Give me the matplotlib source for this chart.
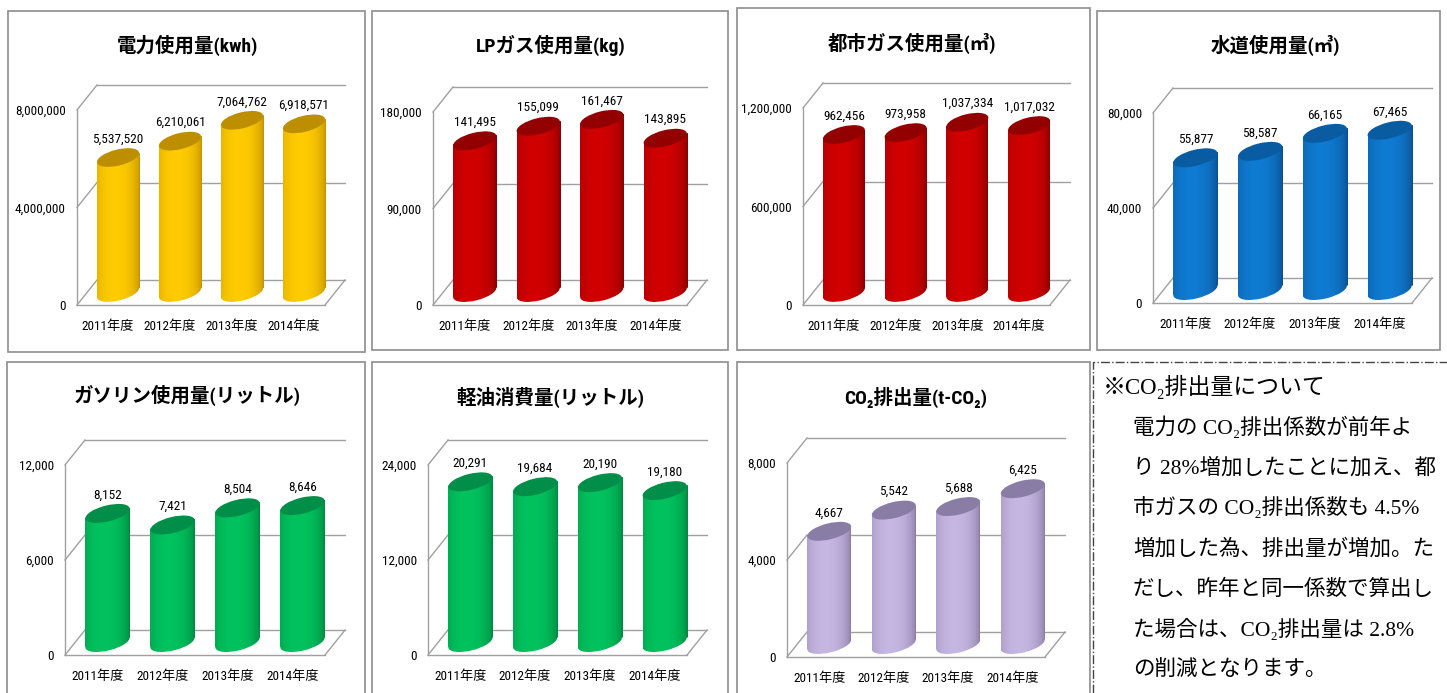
import numpy as np
import matplotlib
matplotlib.use("Agg")
import matplotlib.pyplot as plt
import matplotlib.font_manager as fm
from matplotlib.patches import Rectangle, Ellipse
from matplotlib.transforms import ScaledTranslation, Affine2D
from matplotlib.colors import to_rgb

# ---------------- data ----------------
years = ["2011年度", "2012年度", "2013年度", "2014年度"]
power_kwh = [5537520, 6210061, 7064762, 6918571]
lpgas_kg = [141495, 155099, 161467, 143895]
citygas_m3 = [962456, 973958, 1037334, 1017032]
water_m3 = [55877, 58587, 66165, 67465]
gasoline_l = [8152, 7421, 8504, 8646]
diesel_l = [20291, 19684, 20190, 19180]
co2_t = [4667, 5542, 5688, 6425]

titles = ["電力使用量(kwh)", "LPガス使用量(kg)", "都市ガス使用量(㎥)", "水道使用量(㎥)",
          "ガソリン使用量(リットル)", "軽油消費量(リットル)", "CO₂排出量(t-CO₂)"]
axis_max = [8000000, 180000, 1200000, 80000, 12000, 24000, 8000]

note_title = "※CO₂排出量について"
note_lines = [
    "電力の CO₂排出係数が前年よ",
    "り 28%増加したことに加え、都",
    "市ガスの CO₂排出係数も 4.5%",
    "増加した為、排出量が増加。た",
    "だし、昨年と同一係数で算出し",
    "た場合は、CO₂排出量は 2.8%",
    "の削減となります。",
]

series = [power_kwh, lpgas_kg, citygas_m3, water_m3, gasoline_l, diesel_l, co2_t]

# ---------------- styles / layout ----------------
YELLOW = ("#C28F00", "#FFCC00", "#BD8F00")
RED = ("#880000", "#D20000", "#920000")
BLUE = ("#0A4C8A", "#0F7BD2", "#0A5CA2")
GREEN = ("#00853E", "#00C35E", "#008E48")
PURPLE = ("#887AA5", "#C6B7E2", "#8A7DA5")
styles = [YELLOW, RED, RED, BLUE, GREEN, GREEN, PURPLE]

# (box_l, box_t, box_r, box_b, front_left, floor_y, top_y, front_right, title_x, title_y)
layout = [
    (8, 11, 365, 352, 77, 305, 110, 325, 188, 45),
    (372, 11, 728, 350, 433, 305, 112, 687, 551, 45),
    (737, 8, 1090, 350, 803, 305, 108, 1050, 912, 43),
    (1097, 11, 1440, 350, 1153, 303, 113, 1412, 1275, 45),
    (7, 362, 365, 705, 65, 655, 465, 325, 187, 395),
    (372, 362, 728, 705, 428, 655, 465, 687, 550, 397),
    (737, 362, 1090, 705, 787, 657, 463, 1045, 916, 397),
]

names = {f.name for f in fm.fontManager.ttflist}
NARROW = "Liberation Sans"
for cand in ["Liberation Sans Narrow", "Roboto Condensed", "Open Sans Condensed"]:
    if cand in names:
        NARROW = cand
        break
SANS = [NARROW, "Noto Sans CJK JP", "DejaVu Sans"]
SERIF = ["Liberation Serif", "Noto Sans CJK JP", "DejaVu Serif"]

W, H, DPI = 1447, 693, 100
DX, DY = 20, 25          # depth offset (px)
GRID = "#A0A0A0"
BW = 0.68                # bar width in category units
ANG = 14.0               # cap tilt (deg)
B_HALF = 8.0             # cap minor half-axis (px)

fig = plt.figure(figsize=(W / DPI, H / DPI), dpi=DPI)
fig.patch.set_facecolor("white")


def fx(px):
    return px / W


def fy(py):
    return 1 - py / H


def shade(edge, mid, n=96):
    t = np.linspace(0, 1, n)
    f = np.clip(1 - ((t - 0.42) / 0.58) ** 2, 0, 1) ** 0.6
    e, m = np.array(to_rgb(edge)), np.array(to_rgb(mid))
    rgb = e[None, :] + (m - e)[None, :] * f[:, None]
    rgba = np.concatenate([rgb, np.ones((n, 1))], axis=1)
    return rgba[None, :, :]


for k in range(7):
    bl, bt, br, bb, fl, floor, top, fr, tx, ty = layout[k]
    vals = series[k]
    ymax = axis_max[k]
    edge, mid, capc = styles[k]

    # panel frame
    fig.add_artist(Rectangle((fx(bl), fy(bb)), fx(br - bl), (bb - bt) / H,
                             transform=fig.transFigure, fill=False,
                             edgecolor="#8C8C8C", lw=1.2))
    fig.text(fx(tx), fy(ty), titles[k], ha="center", va="center",
             fontsize=14, fontweight="bold", family=SANS, color="black")

    ax = fig.add_axes([fx(fl), fy(floor), fx(fr - fl), (floor - top) / H])
    ax.set_xlim(0, 4)
    ax.set_ylim(0, ymax)
    ax.patch.set_alpha(0)
    for s in ["top", "right"]:
        ax.spines[s].set_visible(False)
    for s in ["left", "bottom"]:
        ax.spines[s].set_color(GRID)
        ax.spines[s].set_linewidth(1.0)

    ticks = [0, ymax / 2, ymax]
    ax.set_yticks(ticks)
    ax.set_yticklabels([f"{int(t):,}" for t in ticks])
    ax.set_xticks([0.5, 1.5, 2.5, 3.5])
    ax.set_xticklabels(years)
    ax.tick_params(axis="both", length=0, labelsize=9.5, colors="black")
    ax.tick_params(axis="y", pad=8)
    ax.tick_params(axis="x", pad=11)
    for lab in ax.get_xticklabels() + ax.get_yticklabels():
        lab.set_fontfamily(SANS)

    tb = ax.transData + ScaledTranslation(DX / DPI, DY / DPI, fig.dpi_scale_trans)
    tm = ax.transData + ScaledTranslation(DX / 2 / DPI, DY / 2 / DPI, fig.dpi_scale_trans)

    # back wall gridlines + side-wall diagonals
    for v in ticks:
        ax.plot([0, 4], [v, v], transform=tb, color=GRID, lw=1.0, clip_on=False, zorder=1)
        dt = fig.dpi_scale_trans + ScaledTranslation(0, v, ax.transData)
        ax.plot([0, DX / DPI], [0, DY / DPI], transform=dt, color=GRID, lw=1.0,
                clip_on=False, zorder=1)
    dt = fig.dpi_scale_trans + ScaledTranslation(4, 0, ax.transData)
    ax.plot([0, DX / DPI], [0, DY / DPI], transform=dt, color=GRID, lw=1.0,
            clip_on=False, zorder=1)

    # cylinder geometry (pixels)
    x0 = ax.transData.transform((0, 0))[0]
    x1 = ax.transData.transform((BW, 0))[0]
    half_w = (x1 - x0) / 2
    th = np.radians(ANG)
    a_half = np.sqrt((half_w ** 2 - (B_HALF * np.sin(th)) ** 2) / np.cos(th) ** 2)
    e_off = (a_half ** 2 - B_HALF ** 2) * np.sin(th) * np.cos(th) / half_w
    slope = e_off / half_w

    grad = shade(edge, mid)
    for i, v in enumerate(vals):
        xc = i + 0.5
        # bottom cap (gradient clipped to the ellipse)
        bt_tr = fig.dpi_scale_trans + ScaledTranslation(xc, 0, tm)
        bell = Ellipse((0, 0), 2 * a_half / DPI, 2 * B_HALF / DPI, angle=ANG,
                       transform=bt_tr, facecolor="none", edgecolor="none")
        ax.add_patch(bell)
        im = ax.imshow(grad, extent=(xc - BW / 2, xc + BW / 2, -ymax * 0.1, ymax * 0.05),
                       transform=tm, aspect="auto", interpolation="bilinear", zorder=2.9)
        im.set_clip_path(bell)
        # body: sheared so its sides meet the tilted caps at their extreme points
        cx = tm.transform((xc, 0))[0]
        shear = Affine2D().translate(-cx, 0).skew(0, np.arctan(slope)).translate(cx, 0)
        body = ax.imshow(grad, extent=(xc - BW / 2, xc + BW / 2, 0, v),
                         transform=tm + shear, aspect="auto",
                         interpolation="bilinear", zorder=3)
        body.set_clip_on(False)
        # top cap
        tp_tr = fig.dpi_scale_trans + ScaledTranslation(xc, v, tm)
        ax.add_patch(Ellipse((0, 0), 2 * a_half / DPI, 2 * B_HALF / DPI, angle=ANG,
                             transform=tp_tr, facecolor=capc, edgecolor="none",
                             zorder=4, clip_on=False))
        ax.annotate(f"{v:,}", xy=(xc, v), xycoords=tm, xytext=(0, 12),
                    textcoords="offset pixels", ha="center", va="bottom",
                    fontsize=9.5, family=SANS, color="black", zorder=5,
                    annotation_clip=False)
    ax.set_xlim(0, 4)
    ax.set_ylim(0, ymax)

# ---------------- note box ----------------
fig.add_artist(Rectangle((fx(1093), fy(705)), fx(1460 - 1093), (705 - 362) / H,
                         transform=fig.transFigure, fill=False, edgecolor="#444444",
                         lw=1.0, linestyle="-."))
fig.text(fx(1103), fy(387), note_title, ha="left", va="center", fontsize=16.5,
         family=SERIF, color="black")
for i, line in enumerate(note_lines):
    fig.text(fx(1133), fy(387 + 40.5 * (i + 1)), line, ha="left", va="center",
             fontsize=15.5, family=SERIF, color="black")

fig.savefig("out.png", dpi=DPI, facecolor="white")
